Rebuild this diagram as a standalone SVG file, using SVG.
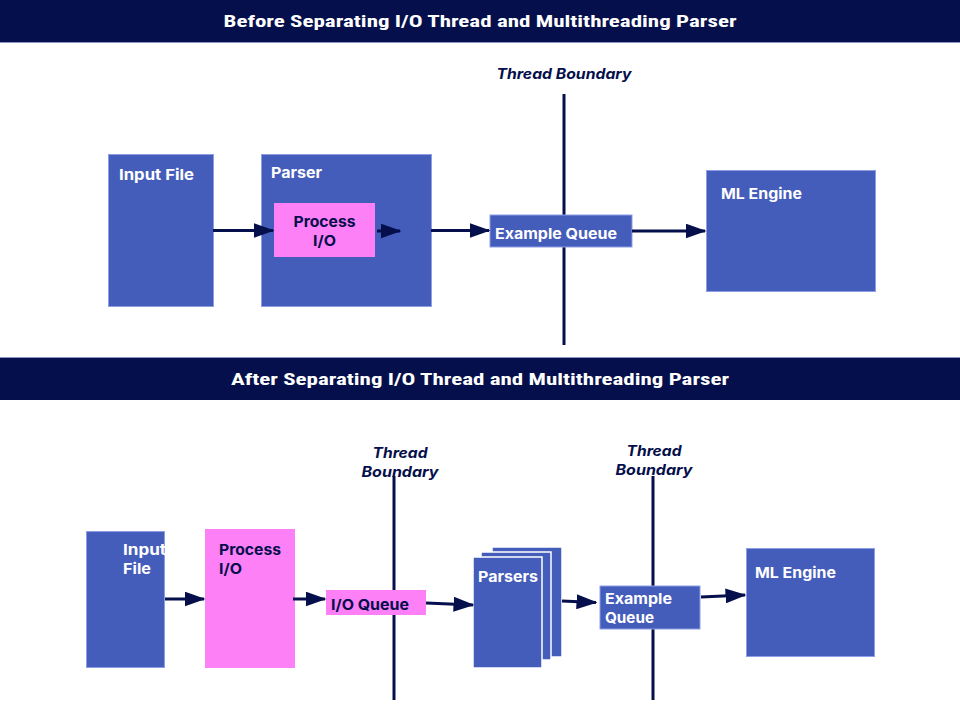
<svg xmlns="http://www.w3.org/2000/svg" width="960" height="720" viewBox="0 0 960 720">
  <style>
    .hdr { fill: #050f4b; }
    .hdr-line { stroke: #8b93c4; stroke-width: 1; }
    .title { font-family: "Liberation Sans Narrow", "Roboto Condensed", "Liberation Sans", sans-serif; font-weight: bold; font-size: 17px; fill: #ffffff; text-anchor: middle; }
    .blue { fill: #445cba; stroke: #8d9ee6; stroke-width: 1; }
    .pink { fill: #fd80f7; }
    .stack { fill: #445cba; stroke: #ffffff; stroke-width: 1.5; }
    .lbl { font-family: Inter, "Open Sans", "Liberation Sans", sans-serif; font-weight: bold; font-size: 15px; fill: #ffffff; }
    .lbl-dark { font-family: Inter, "Open Sans", "Liberation Sans", sans-serif; font-weight: bold; font-size: 15px; fill: #050f4b; }
    .tb { font-family: Inter, "Open Sans", "Liberation Sans", sans-serif; font-weight: bold; font-style: italic; font-size: 14.5px; fill: #050f4b; text-anchor: middle; }
    .boundary { stroke: #050f4b; stroke-width: 3; fill: none; }
    .conn { stroke: #050f4b; stroke-width: 3; fill: none; marker-end: url(#arrow); }
  </style>
  <defs>
    <marker id="arrow" markerWidth="7" markerHeight="5" refX="6.5" refY="2.5" orient="auto" markerUnits="strokeWidth">
      <path d="M0,0 L7,2.5 L0,5 Z" fill="#050f4b"/>
    </marker>
    <clipPath id="clip-input2"><rect x="86" y="531" width="79" height="136"/></clipPath>
  </defs>

  <rect width="960" height="720" fill="#ffffff"/>

  <!-- section headers -->
  <g id="header-before">
    <rect class="hdr" x="0" y="0" width="960" height="42"/>
    <line class="hdr-line" x1="0" y1="42.5" x2="960" y2="42.5"/>
    <text class="title" x="480" y="27" textLength="513" lengthAdjust="spacingAndGlyphs">Before Separating I/O Thread and Multithreading Parser</text>
  </g>
  <g id="header-after">
    <line class="hdr-line" x1="0" y1="357.5" x2="960" y2="357.5"/>
    <rect class="hdr" x="0" y="358" width="960" height="42"/>
    <text class="title" x="480" y="385" textLength="498" lengthAdjust="spacingAndGlyphs">After Separating I/O Thread and Multithreading Parser</text>
  </g>

  <!-- thread boundaries -->
  <g id="boundaries">
    <line class="boundary" x1="564" y1="94" x2="564" y2="345"/>
    <text class="tb" x="564" y="79" textLength="135" lengthAdjust="spacingAndGlyphs">Thread Boundary</text>
    <line class="boundary" x1="394" y1="476" x2="394" y2="700"/>
    <text class="tb" x="400" y="458" textLength="55" lengthAdjust="spacingAndGlyphs">Thread</text>
    <text class="tb" x="400" y="477" textLength="77" lengthAdjust="spacingAndGlyphs">Boundary</text>
    <line class="boundary" x1="653" y1="476" x2="653" y2="700"/>
    <text class="tb" x="654" y="456" textLength="55" lengthAdjust="spacingAndGlyphs">Thread</text>
    <text class="tb" x="654" y="475" textLength="77" lengthAdjust="spacingAndGlyphs">Boundary</text>
  </g>

  <!-- before: nodes -->
  <g id="input-file-1">
    <rect class="blue" x="108.5" y="154.5" width="105" height="152"/>
    <text class="lbl" x="119" y="180" textLength="75" lengthAdjust="spacingAndGlyphs">Input File</text>
  </g>
  <g id="parser-1">
    <rect class="blue" x="261.5" y="154.5" width="170" height="152"/>
    <text class="lbl" x="271" y="178" textLength="51" lengthAdjust="spacingAndGlyphs">Parser</text>
  </g>
  <g id="process-io-1">
    <rect class="pink" x="274" y="203" width="101" height="54"/>
    <text class="lbl-dark" x="324.5" y="227" text-anchor="middle" textLength="62" lengthAdjust="spacingAndGlyphs">Process</text>
    <text class="lbl-dark" x="324.5" y="246" text-anchor="middle" textLength="23" lengthAdjust="spacingAndGlyphs">I/O</text>
  </g>
  <g id="example-queue-1">
    <rect class="blue" x="490" y="215" width="142" height="32"/>
    <text class="lbl" x="495" y="239" textLength="122" lengthAdjust="spacingAndGlyphs">Example Queue</text>
  </g>
  <g id="ml-engine-1">
    <rect class="blue" x="706.5" y="170.5" width="169" height="121"/>
    <text class="lbl" x="721" y="199" textLength="81" lengthAdjust="spacingAndGlyphs">ML Engine</text>
  </g>

  <!-- after: nodes -->
  <g id="input-file-2">
    <rect class="blue" x="86.5" y="531.5" width="78" height="136"/>
    <g clip-path="url(#clip-input2)">
      <text class="lbl" x="123" y="555" textLength="43" lengthAdjust="spacingAndGlyphs">Input</text>
      <text class="lbl" x="123" y="574" textLength="28" lengthAdjust="spacingAndGlyphs">File</text>
    </g>
  </g>
  <g id="process-io-2">
    <rect class="pink" x="205" y="529" width="90" height="139"/>
    <text class="lbl-dark" x="219" y="555" textLength="62" lengthAdjust="spacingAndGlyphs">Process</text>
    <text class="lbl-dark" x="219" y="574" textLength="23" lengthAdjust="spacingAndGlyphs">I/O</text>
  </g>
  <g id="io-queue">
    <rect class="pink" x="326" y="590" width="100" height="25"/>
    <text class="lbl-dark" x="331" y="610" textLength="78" lengthAdjust="spacingAndGlyphs">I/O Queue</text>
  </g>
  <g id="parsers">
    <rect class="stack" x="492" y="547" width="70" height="110"/>
    <rect class="stack" x="481" y="552" width="70" height="108"/>
    <rect class="stack" x="473" y="557" width="69" height="111"/>
    <text class="lbl" x="478" y="582" textLength="60" lengthAdjust="spacingAndGlyphs">Parsers</text>
  </g>
  <g id="example-queue-2">
    <rect class="blue" x="600" y="586" width="100" height="43"/>
    <text class="lbl" x="605" y="604" textLength="67" lengthAdjust="spacingAndGlyphs">Example</text>
    <text class="lbl" x="605" y="623" textLength="49" lengthAdjust="spacingAndGlyphs">Queue</text>
  </g>
  <g id="ml-engine-2">
    <rect class="blue" x="746.5" y="548.5" width="128" height="108"/>
    <text class="lbl" x="755" y="578" textLength="81" lengthAdjust="spacingAndGlyphs">ML Engine</text>
  </g>

  <!-- connectors -->
  <g id="connectors">
    <line class="conn" x1="213" y1="230.5" x2="273" y2="230.5"/>
    <line class="conn" x1="377" y1="231" x2="400" y2="231"/>
    <line class="conn" x1="431" y1="230.5" x2="489" y2="230.5"/>
    <line class="conn" x1="632" y1="231" x2="705" y2="231"/>
    <line class="conn" x1="165" y1="599" x2="204" y2="599"/>
    <line class="conn" x1="293" y1="599" x2="325" y2="599"/>
    <line class="conn" x1="426" y1="603" x2="473" y2="605"/>
    <line class="conn" x1="562" y1="601" x2="596" y2="602.5"/>
    <line class="conn" x1="701" y1="597" x2="745" y2="595"/>
  </g>
</svg>
